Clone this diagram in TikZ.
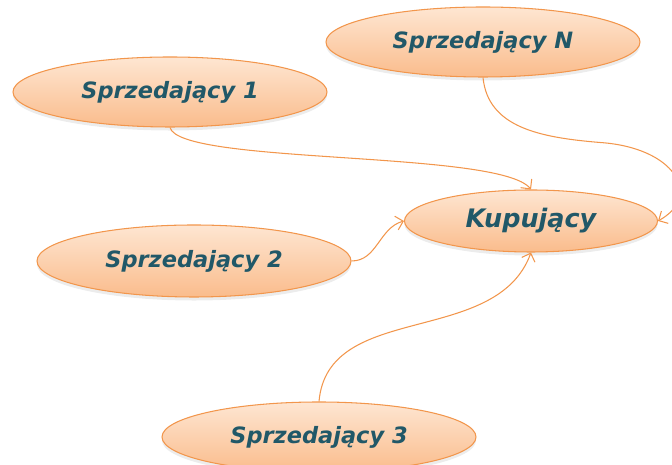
\documentclass[tikz,border=0pt]{standalone}
\usepackage{fontspec}
\setmainfont{DejaVu Sans}
\usetikzlibrary{arrows.meta,shapes.geometric,shadows}
\definecolor{peachtop}{RGB}{254,230,210}
\definecolor{peachbot}{RGB}{250,188,140}
\definecolor{peachline}{RGB}{242,150,76}
\definecolor{tealtext}{RGB}{33,88,104}

\begin{document}
\begin{tikzpicture}[
        party/.style={ellipse, draw=peachline, line width=0.6pt, top color=peachtop, bottom color=peachbot,
            minimum width=6.28cm, minimum height=1.4cm, text=tealtext,
            font=\fontsize{12.8}{15}\selectfont\bfseries\itshape,
            drop shadow={opacity=0.15, shadow xshift=0pt, shadow yshift=-2pt}},
        conn/.style={draw=peachline, line width=0.6pt, -{Straight Barb[length=4pt,width=8pt]}}
    ]
            \useasboundingbox (0,0) rectangle (13.44,9.3);
            \node[party] (sellerN) at (9.66,8.46) {Sprzedający N};
            \node[party] (seller1) at (3.40,7.46) {Sprzedający 1};
            \node[party, minimum width=5.06cm, minimum height=1.24cm,
                font=\fontsize{14.5}{17}\selectfont\bfseries\itshape] (buyer) at (10.62,4.88) {Kupujący};
            \node[party, minimum height=1.44cm] (seller2) at (3.88,4.08) {Sprzedający 2};
            \node[party] (seller3) at (6.38,0.56) {Sprzedający 3};

            \draw[conn] (seller1.south) .. controls (3.6,6.0) and (10.0,6.3) .. (buyer.north);
            \draw[conn] (sellerN.south) .. controls +(0.1,-1.0) and +(-1.2,0.1) .. (12.0,6.45)
                .. controls +(1.5,-0.1) and +(0.9,0.5) .. (buyer.east);
            \draw[conn] (seller2.east) to[out=0,in=195] (buyer.west);
            \draw[conn] (seller3.north) to[out=85,in=-110] (buyer.south);
        \end{tikzpicture}
\end{document}
